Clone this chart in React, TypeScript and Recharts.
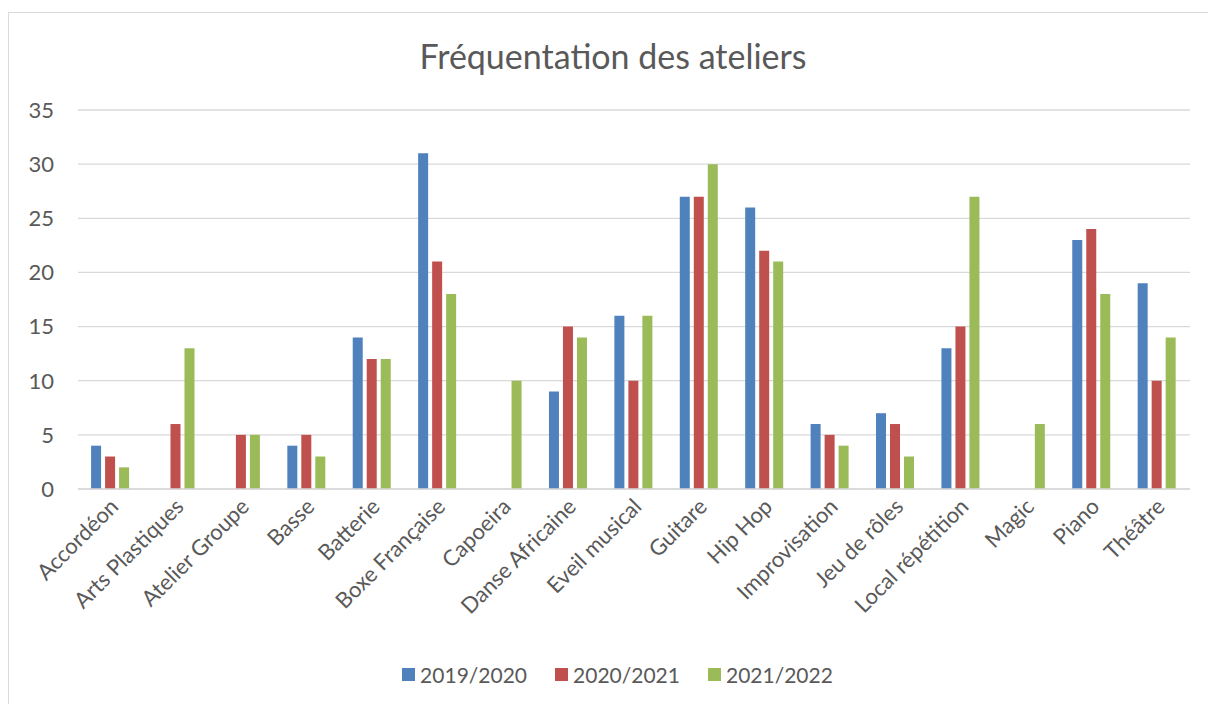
import React from 'react';
import { BarChart, Bar, XAxis, YAxis, CartesianGrid, Legend } from 'recharts';

const categories = [
  'Accordéon', 'Arts Plastiques', 'Atelier Groupe', 'Basse', 'Batterie', 'Boxe Française',
  'Capoeira', 'Danse Africaine', 'Eveil musical', 'Guitare', 'Hip Hop', 'Improvisation',
  'Jeu de rôles', 'Local répétition', 'Magic', 'Piano', 'Théâtre',
];
const s2019: (number | null)[] = [4, null, null, 4, 14, 31, null, 9, 16, 27, 26, 6, 7, 13, null, 23, 19];
const s2020: (number | null)[] = [3, 6, 5, 5, 12, 21, null, 15, 10, 27, 22, 5, 6, 15, null, 24, 10];
const s2021: (number | null)[] = [2, 13, 5, 3, 12, 18, 10, 14, 16, 30, 21, 4, 3, 27, 6, 18, 14];
const yTicks = [0, 5, 10, 15, 20, 25, 30, 35];
const seriesNames = ['2019/2020', '2020/2021', '2021/2022'];
const colors = ['#4F81BD', '#C0504D', '#9BBB59'];
const title = 'Fréquentation des ateliers';

const data = categories.map((c, i) => ({ name: c, a: s2019[i], b: s2020[i], c: s2021[i] }));

const FONT = 'Lato, "Open Sans", sans-serif';
const TEXT = '#595959';

const XTick = (props: any) => {
  const { x, y, payload } = props;
  const ax = x + 9;
  const ay = y + 11;
  return (
    <text x={ax} y={ay} transform={`rotate(-45, ${ax}, ${ay})`} textAnchor="end"
      fontFamily={FONT} fontSize={22} fill={TEXT}>
      {payload.value}
    </text>
  );
};

const LegendContent = () => (
  <div style={{ display: 'flex', justifyContent: 'center', alignItems: 'center', height: 30,
    fontFamily: FONT, fontSize: 21, color: TEXT, paddingLeft: 36 }}>
    {seriesNames.map((n, i) => (
      <div key={n} style={{ display: 'flex', alignItems: 'center', marginLeft: i ? 28 : 0 }}>
        <span style={{ display: 'inline-block', width: 13, height: 13, background: colors[i], marginRight: 5 }} />
        <span>{n}</span>
      </div>
    ))}
  </div>
);

export default function App() {
  return (
    <div style={{ position: 'fixed', top: 12, left: 8, width: 1210, height: 700,
      borderTop: '1px solid #d9d9d9', borderLeft: '1px solid #d9d9d9', background: '#fff' }}>
      <div style={{ position: 'absolute', top: 22, left: 4, width: 1200, textAlign: 'center',
        fontFamily: FONT, fontSize: 34, color: TEXT }}>{title}</div>
      <BarChart width={1200} height={692} data={data}
        margin={{ top: 97, right: 19, left: 0, bottom: 0 }}
        barCategoryGap="20%" barGap={4}>
        <CartesianGrid vertical={false} stroke="#d9d9d9" strokeWidth={1.3} />
        <XAxis dataKey="name" interval={0} height={186} tickLine={false}
          axisLine={{ stroke: '#d9d9d9', strokeWidth: 1.3 }} tick={<XTick />} />
        <YAxis width={69} domain={[0, 35]} ticks={yTicks} axisLine={false} tickLine={false}
          tickMargin={18} tick={{ fontFamily: FONT, fontSize: 22, fill: TEXT }} />
        <Legend verticalAlign="bottom" content={<LegendContent />} wrapperStyle={{ bottom: 16 }} />
        <Bar dataKey="a" name={seriesNames[0]} fill={colors[0]} isAnimationActive={false} />
        <Bar dataKey="b" name={seriesNames[1]} fill={colors[1]} isAnimationActive={false} />
        <Bar dataKey="c" name={seriesNames[2]} fill={colors[2]} isAnimationActive={false} />
      </BarChart>
    </div>
  );
}
